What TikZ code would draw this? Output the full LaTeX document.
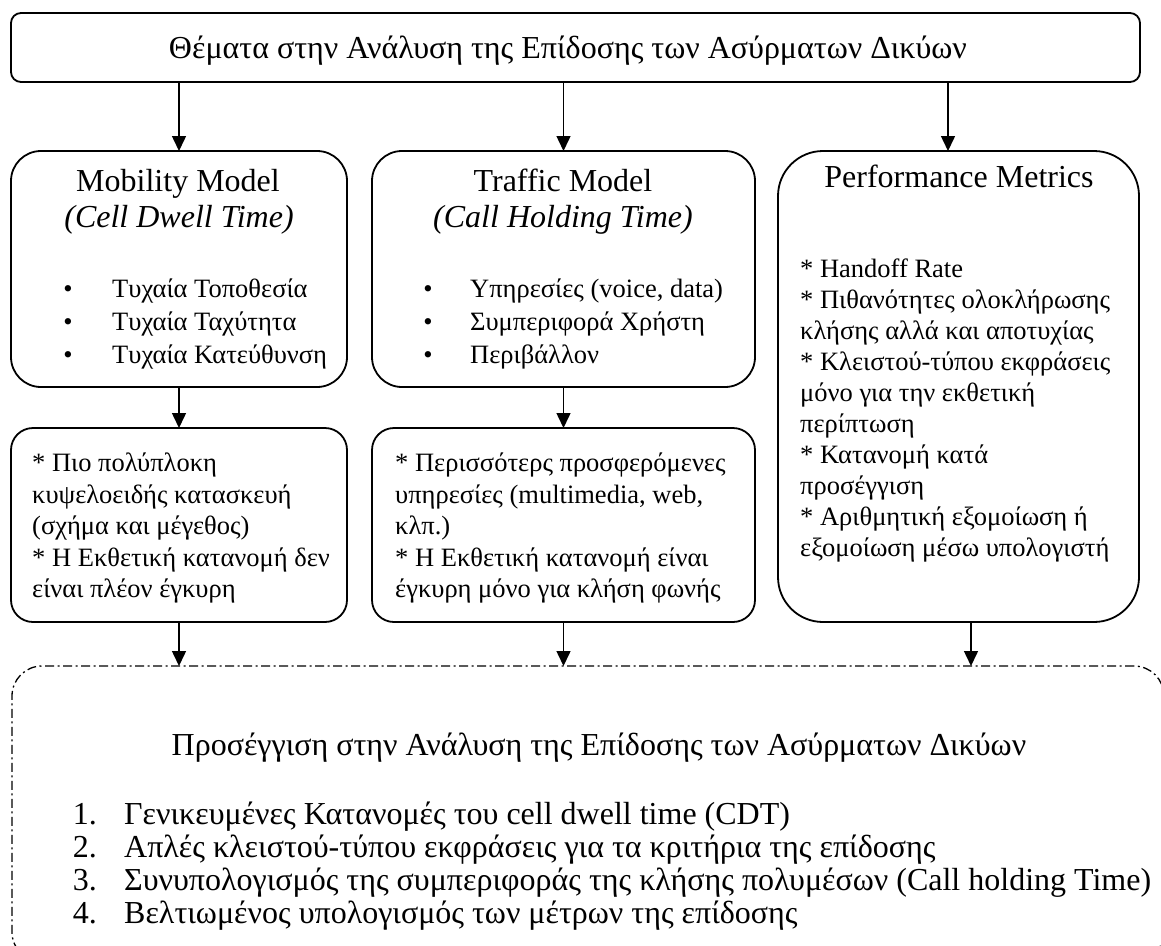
\documentclass[tikz,border=0pt]{standalone}
\usepackage{fontspec}
\setmainfont{Liberation Serif}
\usetikzlibrary{arrows.meta,calc}
\begin{document}
\begin{tikzpicture}[x=1pt,y=-1pt,
  box/.style={draw, line width=1.8pt, rounded corners=#1, inner sep=0pt, outer sep=0pt, anchor=north west},
  arr/.style={line width=1.5pt, -{Triangle[length=15pt,width=14pt]}},
  head/.style={font=\fontsize{32}{38}\selectfont, inner sep=0pt, anchor=base},
  title/.style={font=\fontsize{32}{38}\selectfont, inner sep=0pt, anchor=base},
  body/.style={font=\fontsize{26.5}{31.5}\selectfont, align=left, inner sep=0pt, anchor=base west},
  bul/.style={font=\fontsize{26.5}{31.5}\selectfont, inner sep=0pt, anchor=base},
  item/.style={font=\fontsize{32}{38}\selectfont, inner sep=0pt, anchor=base west},
  dashdot/.style={line width=1.3pt, dash pattern=on 9pt off 3.5pt on 2pt off 3.5pt}
]
\useasboundingbox (0,0) rectangle (1161,945);

% boxes
\node[box=10pt, minimum width=1129pt, minimum height=69pt] (top) at (11,13) {};
\node[box=30pt, minimum width=336pt, minimum height=236pt] (mob) at (11,151) {};
\node[box=30pt, minimum width=383pt, minimum height=236pt] (traf) at (372,151) {};
\node[box=45pt, minimum width=361pt, minimum height=471pt] (perf) at (778,151) {};
\node[box=22pt, minimum width=336pt, minimum height=194pt] (mob3) at (11,428) {};
\node[box=22pt, minimum width=383pt, minimum height=194pt] (traf3) at (372,428) {};
\node[box=30pt, dashdot, minimum width=1152pt, minimum height=296pt] (appr) at (12,666) {};

\coordinate (pa) at (948,151);
\coordinate (pb) at (971,622);

% connectors
\draw[arr] (top.south -| mob.north) -- (mob.north);
\draw[arr] (top.south -| traf.north) -- (traf.north);
\draw[arr] (top.south -| pa) -- (pa);
\draw[arr] (mob.south) -- (mob3.north);
\draw[arr] (traf.south) -- (traf3.north);
\draw[arr] (mob3.south) -- (mob3.south |- appr.north);
\draw[arr] (traf3.south) -- (traf3.south |- appr.north);
\draw[arr] (pb) -- (appr.north -| pb);

% texts
\node[title] (ttop) at (568,58) {Θέματα στην Ανάλυση της Επίδοσης των Ασύρματων Δικύων};

\node[head] (tmob) at (178,191) {Mobility Model};
\node[head] (tmob2) at (179,227) {\itshape (Cell Dwell Time)};
\node[bul] (bm1) at (68,297) {•};
\node[bul] (bm2) at (68,330) {•};
\node[bul] (bm3) at (68,363) {•};
\node[body] (m1) at (112,297) {Τυχαία Τοποθεσία};
\node[body] (m2) at (112,330) {Τυχαία Ταχύτητα};
\node[body] (m3) at (112,363) {Τυχαία Κατεύθυνση};

\node[head] (ttraf) at (563,191) {Traffic Model};
\node[head] (ttraf2) at (563,227) {\itshape (Call Holding Time)};
\node[bul] (bt1) at (428,297) {•};
\node[bul] (bt2) at (428,330) {•};
\node[bul] (bt3) at (428,363) {•};
\node[body] (t1) at (470,297) {Υπηρεσίες (voice, data)};
\node[body] (t2) at (470,330) {Συμπεριφορά Χρήστη};
\node[body] (t3) at (470,363) {Περιβάλλον};

\node[head] (tperf) at (959,187) {Performance Metrics};
\node[body, anchor=north west, font=\fontsize{26.5}{31}\selectfont] (p1) at (800,259) {* Handoff Rate\\
* Πιθανότητες ολοκλήρωσης\\
κλήσης αλλά και αποτυχίας\\
* Κλειστού-τύπου εκφράσεις\\
μόνο για την εκθετική\\
περίπτωση\\
* Κατανομή κατά\\
προσέγγιση\\
* Αριθμητική εξομοίωση ή\\
εξομοίωση μέσω υπολογιστή};

\node[body, anchor=north west] (mm) at (32,453) {* Πιο πολύπλοκη\\
κυψελοειδής κατασκευή\\
(σχήμα και μέγεθος)\\
* Η Εκθετική κατανομή δεν\\
είναι πλέον έγκυρη};

\node[body, anchor=north west] (tt) at (395,453) {* Περισσότερς προσφερόμενες\\
υπηρεσίες (multimedia, web,\\
κλπ.)\\
* Η Εκθετική κατανομή είναι\\
έγκυρη μόνο για κλήση φωνής};

\node[title] (tappr) at (599,755) {Προσέγγιση στην Ανάλυση της Επίδοσης των Ασύρματων Δικύων};
\node[item, anchor=base east] (n1) at (97,824) {1.};
\node[item, anchor=base east] (n2) at (97,857) {2.};
\node[item, anchor=base east] (n3) at (97,890) {3.};
\node[item, anchor=base east] (n4) at (97,923) {4.};
\node[item] (a1) at (124,824) {Γενικευμένες Κατανομές του cell dwell time (CDT)};
\node[item] (a2) at (124,857) {Απλές κλειστού-τύπου εκφράσεις για τα κριτήρια της επίδοσης};
\node[item] (a3) at (124,890) {Συνυπολογισμός της συμπεριφοράς της κλήσης πολυμέσων (Call holding Time)};
\node[item] (a4) at (124,923) {Βελτιωμένος υπολογισμός των μέτρων της επίδοσης};
\end{tikzpicture}
\end{document}
